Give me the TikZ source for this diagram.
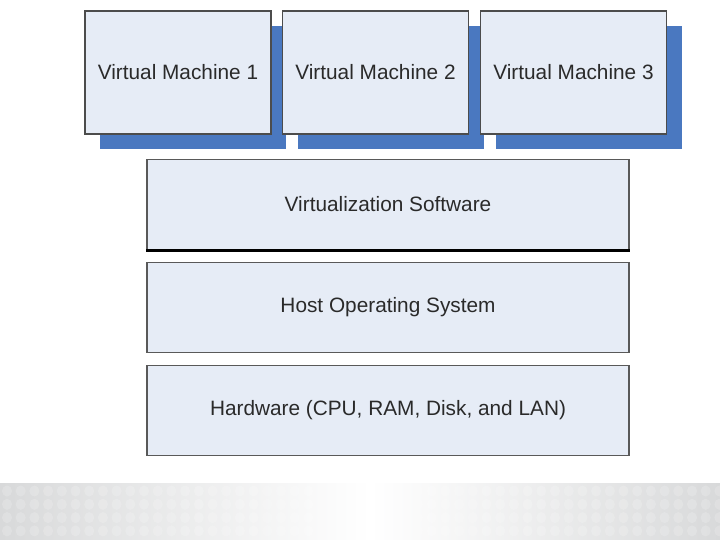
\documentclass[tikz,border=0pt]{standalone}
\usepackage{fontspec}
\setmainfont{Liberation Sans}
\begin{document}
\begin{tikzpicture}[x=1pt,y=-1pt,
  vm/.style={draw=black!70, line width=1.5pt, fill=boxfill, minimum width=186pt, minimum height=123pt, inner sep=0pt, text=textc, font=\fontsize{20.8}{24}\selectfont},
  layer/.style={draw=black!65, line width=1.8pt, fill=boxfill, minimum width=482pt, minimum height=90pt, inner sep=0pt, text=textc, font=\fontsize{20.8}{24}\selectfont},
  shadowbox/.style={fill=shadowblue, draw=none}]
\definecolor{boxfill}{HTML}{E6ECF6}
\definecolor{shadowblue}{HTML}{4A78C0}
\definecolor{textc}{HTML}{2A2A2A}
\definecolor{stripgray}{HTML}{D8D9DA}
\useasboundingbox (0,0) rectangle (720,540);
\fill[white] (0,0) rectangle (720,540);
% bottom strip
\shade[left color=stripgray, right color=white] (0,483) rectangle (370,540);
\shade[left color=white, right color=stripgray] (370,483) rectangle (720,540);
\foreach \r in {0,...,3} {
  \foreach \c in {0,...,52} {
    \fill[white, opacity=0.18] (7+\c*13.7, 491+\r*13.3) ellipse (5pt and 5.5pt);
  }
}
% shadows
\foreach \x in {100,298,496} {
  \fill[shadowbox] (\x,26) rectangle (\x+186,149);
}
% VMs
\node[vm] (vm1) at (178,72.5) {Virtual Machine 1};
\node[vm] (vm2) at (375.5,72.5) {Virtual Machine 2};
\node[vm] (vm3) at (573.5,72.5) {Virtual Machine 3};
% layers
\node[layer] (virt) at (388,204.5) {Virtualization Software};
\draw[black, line width=2.5pt] (virt.south west) -- (virt.south east);
\node[layer] (host) at (388,307.5) {Host Operating System};
\node[layer] (hw) at (388,410.5) {Hardware (CPU, RAM, Disk, and LAN)};
\end{tikzpicture}
\end{document}
